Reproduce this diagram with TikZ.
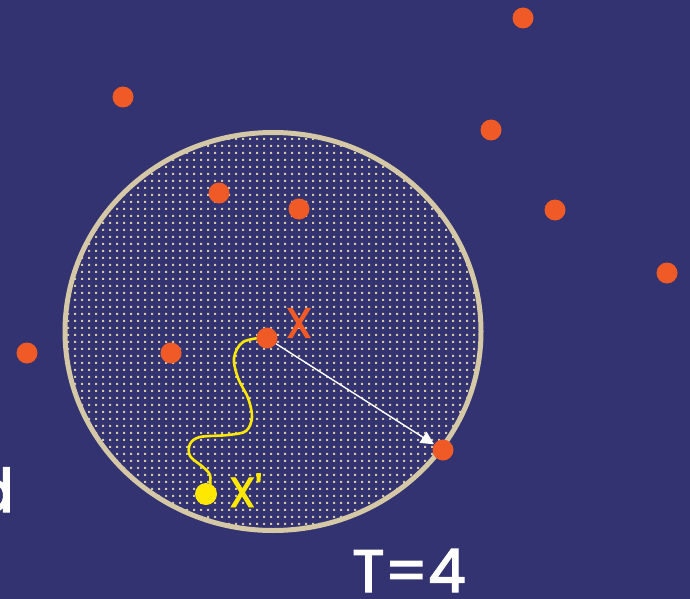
\documentclass[tikz,border=0pt]{standalone}
\usepackage{fontspec}
\setmainfont{Poppins}
\newfontfamily\hand[FakeBold=2.2]{Poppins}
\usetikzlibrary{patterns.meta,arrows.meta}
\definecolor{bg}{RGB}{50,51,112}
\definecolor{tan}{RGB}{212,200,166}
\definecolor{orng}{RGB}{240,90,38}
\definecolor{yell}{RGB}{255,232,0}
\tikzdeclarepattern{
  name=tandots,
  type=uncolored,
  bounding box={(0pt,0pt) and (6.7pt,6.7pt)},
  tile size={(6.7pt,6.7pt)},
  code={\fill (0pt,0pt) rectangle (2.3pt,2.3pt);}
}
\tikzset{
  pt/.style={circle,fill=orng,inner sep=0pt,minimum size=21pt},
  ydot/.style={circle,fill=yell,inner sep=0pt,minimum size=22pt},
  lbl/.style={inner sep=0pt,font=\fontsize{60}{60}\selectfont\hand,text=white},
  xlbl/.style={inner sep=0pt,font=\fontsize{42}{42}\selectfont\hand},
}
\begin{document}
\begin{tikzpicture}[x=1pt,y=-1pt]
\fill[bg] (0,0) rectangle (690,599);
\useasboundingbox (0,0) rectangle (690,599);
% neighbourhood
\fill[pattern=tandots,pattern color=tan] (273,331.5) ellipse [x radius=209,y radius=200];
\draw[tan,line width=5pt] (273,331.5) ellipse [x radius=208,y radius=199];
% points
\node[pt] (p1) at (523,18) {};
\node[pt] (p2) at (123,97) {};
\node[pt] (p3) at (491,130) {};
\node[pt] (p4) at (219,193) {};
\node[pt] (p5) at (299,209) {};
\node[pt] (p6) at (555,210) {};
\node[pt] (p7) at (667,273) {};
\node[pt] (p8) at (27,353) {};
\node[pt] (p9) at (171,353) {};
\node[pt] (e) at (443,450) {};
\node[ydot] (y) at (206,494) {};
% random walk
\draw[yell,line width=2.6pt,line cap=round] plot[smooth,tension=0.55] coordinates {(266,337) (243,342) (234,358) (238,378) (248,398) (252,417) (246,431) (228,435) (200,437) (190,444) (190,456) (203,467) (210,475) (210,486)};
\node[pt] (c) at (267,338) {};
% radius arrow
\draw[white,line width=1.4pt,-{Triangle[length=13pt,width=13pt]}] (c) -- (e);
% labels
\node[xlbl,text=orng] (xl) at (299,323) {X};
\node[xlbl,text=yell,anchor=base west] (xpl) at (229,507) {X'};
\node[lbl,anchor=base] (t) at (409,592) {T=4};
\node[lbl,anchor=base east] (d) at (14,512) {d};
\end{tikzpicture}
\end{document}
